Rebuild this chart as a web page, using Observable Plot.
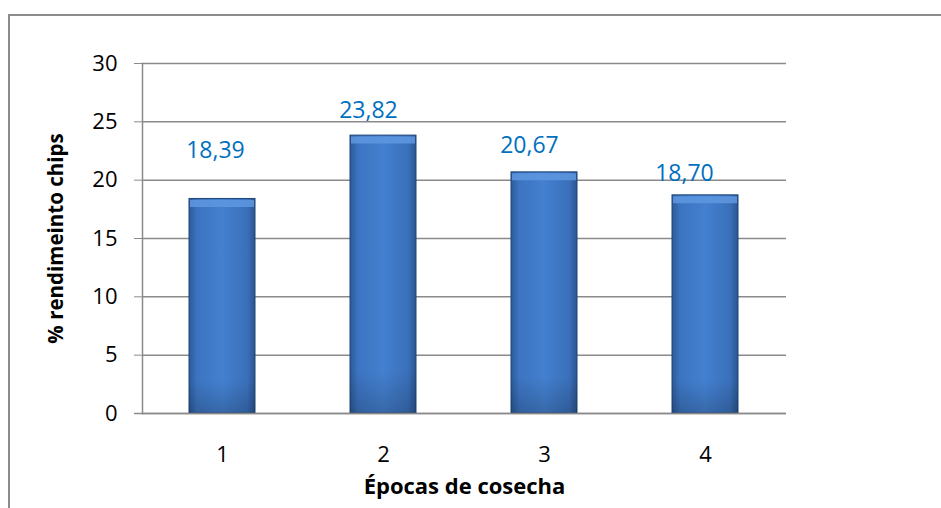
<!DOCTYPE html>
<html>
<head>
<meta charset="utf-8">
<script src="https://cdn.jsdelivr.net/npm/d3@7"></script>
<script src="https://cdn.jsdelivr.net/npm/@observablehq/plot@0.6"></script>
<style>
  html, body { margin: 0; padding: 0; background: #fff; }
  #wrap { position: relative; width: 941px; height: 508px; overflow: hidden; }
  #frame { position: absolute; left: 8px; top: 14px; width: 1000px; height: 600px;
           border-left: 2px solid #8c8c8c; border-top: 2px solid #8c8c8c; box-sizing: border-box; }
  #chart { position: absolute; left: 0; top: 0; }
</style>
</head>
<body>
<div id="wrap">
  <div id="frame"></div>
  <div id="chart"></div>
</div>
<script>
const categories = ["1", "2", "3", "4"];
const values = [18.39, 23.82, 20.67, 18.70];
const valueLabels = ["18,39", "23,82", "20,67", "18,70"];
const yTicks = [0, 5, 10, 15, 20, 25, 30];

const data = categories.map((c, i) => ({cat: c, value: values[i], label: valueLabels[i]}));

// label placement offsets (as positioned in the original chart)
const labelOffsets = [
  {dx: -7, dy: -41},
  {dx: -15, dy: -18},
  {dx: -15, dy: -19},
  {dx: -21, dy: -14}
];

const font = "'Open Sans', 'Liberation Sans', sans-serif";

const labelMarks = data.map((d, i) => Plot.text([d], {
  x: "cat", y: "value", text: "label",
  dx: labelOffsets[i].dx, dy: labelOffsets[i].dy,
  fill: "#0070C0", fontSize: 23, lineAnchor: "bottom", textAnchor: "middle"
}));

const chart = Plot.plot({
  width: 941,
  height: 508,
  marginLeft: 142,
  marginRight: 155,
  marginTop: 63,
  marginBottom: 95,
  style: {fontFamily: font, background: "transparent", overflow: "visible"},
  x: {domain: categories, paddingInner: 0.59, paddingOuter: 0.295, label: null},
  y: {domain: [0, 30], label: null},
  marks: [
    () => {
      const svg = d3.create("svg:defs");
      const g = svg.append("linearGradient").attr("id", "barGrad").attr("x1", "0").attr("x2", "1").attr("y1", "0").attr("y2", "0");
      g.append("stop").attr("offset", "0").attr("stop-color", "#2c5a98");
      g.append("stop").attr("offset", "0.12").attr("stop-color", "#3c74c0");
      g.append("stop").attr("offset", "0.5").attr("stop-color", "#4380cf");
      g.append("stop").attr("offset", "0.88").attr("stop-color", "#3a70ba");
      g.append("stop").attr("offset", "1").attr("stop-color", "#2a5590");
      const v = svg.append("linearGradient").attr("id", "barShade").attr("x1", "0").attr("x2", "0").attr("y1", "0").attr("y2", "1");
      v.append("stop").attr("offset", "0").attr("stop-color", "#000").attr("stop-opacity", "0");
      v.append("stop").attr("offset", "0.85").attr("stop-color", "#000").attr("stop-opacity", "0");
      v.append("stop").attr("offset", "1").attr("stop-color", "#000").attr("stop-opacity", "0.18");
      return svg.node();
    },
    Plot.gridY(yTicks, {stroke: "#8a8a8a", strokeOpacity: 1, strokeWidth: 1.5}),
    Plot.axisY({ticks: yTicks, tickSize: 8, tickPadding: 17, stroke: "#8a8a8a", fontSize: 22, fill: "#000", label: null, tickFormat: d => String(d)}),
    Plot.axisX({tickSize: 0, tickPadding: 33, fontSize: 22, fill: "#000", label: null}),
    Plot.barY(data, {x: "cat", y: "value", fill: "url(#barGrad)", stroke: "#1f4577", strokeWidth: 1}),
    Plot.barY(data, {x: "cat", y: "value", fill: "url(#barShade)"}),
    Plot.tickY(data, {x: "cat", y: "value", stroke: "#5f98e0", strokeOpacity: 0.85, strokeWidth: 7, dy: 4.5, insetLeft: 1, insetRight: 1}),
    Plot.frame({anchor: "left", stroke: "#8a8a8a", strokeWidth: 1.5}),
    Plot.ruleY([0], {stroke: "#8a8a8a", strokeWidth: 1.5, insetLeft: -8}),
    ...labelMarks,
    Plot.text(["% rendimeinto chips"], {frameAnchor: "left", dx: -86, rotate: -90, fontSize: 20.5, fontWeight: "bold", fill: "#000", textAnchor: "middle"}),
    Plot.text(["Épocas de cosecha"], {frameAnchor: "bottom", dy: 80, fontSize: 22, fontWeight: "bold", fill: "#000", textAnchor: "middle"})
  ]
});
document.getElementById("chart").appendChild(chart);
</script>
</body>
</html>
